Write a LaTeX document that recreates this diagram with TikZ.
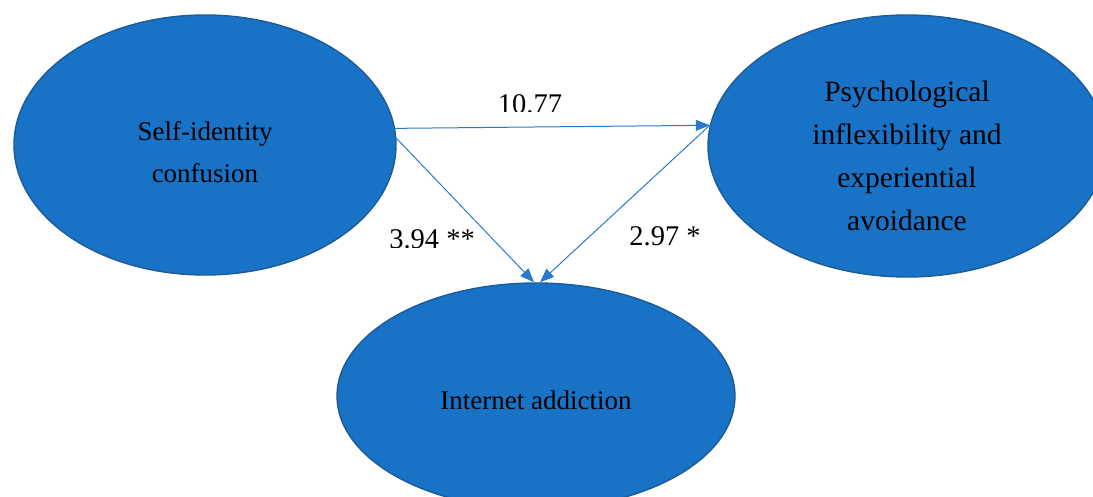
\documentclass[tikz,border=0pt]{standalone}
\usepackage{fontspec}
\setmainfont{Liberation Serif}
\usetikzlibrary{shapes.geometric,arrows.meta}
\definecolor{efill}{HTML}{1872C6}
\definecolor{eline}{HTML}{1D5A96}
\definecolor{aline}{HTML}{2A7ACB}
\tikzset{
  oval/.style={ellipse, draw=eline, fill=efill, line width=1.4pt, inner sep=0pt},
  otext/.style={align=center, font=\fontsize{27}{42}\selectfont, text=black, inner sep=0pt},
  conn/.style={draw=aline, line width=1pt, -{Triangle[length=14pt,width=11pt]}},
  lbl/.style={font=\fontsize{28.5}{34}\selectfont, text=black, inner sep=0pt}
}
\begin{document}
\begin{tikzpicture}[x=1pt,y=-1pt]
\useasboundingbox (0,0) rectangle (1093,497);
\begin{scope}
\clip (0,0) rectangle (1093,497);
\node[oval, minimum width=382pt, minimum height=260pt] (L) at (205,145) {};
\node[oval, minimum width=398pt, minimum height=262pt] (R) at (907,146) {};
\node[oval, minimum width=398pt, minimum height=226pt] (B) at (536,396) {};
\end{scope}
\node[otext] (Lt) at (205,152) {Self-identity\\confusion};
\node[otext, font=\fontsize{29.5}{43}\selectfont] (Rt) at (907,156) {Psychological\\inflexibility and\\experiential\\avoidance};
\node[otext] (Bt) at (536,400) {Internet addiction};
\draw[conn] (L.5) -- (R.174.5);
\draw[conn] (L.2) -- (B.91);
\draw[conn] (R.174.5) -- (B.88);
\begin{scope}
\clip (450,80) rectangle (620,112);
\node[lbl] (l1) at (530,104) {10.77};
\end{scope}
\begin{scope}
\clip (370,215) rectangle (500,248);
\node[lbl] (l2) at (432,239) {3.94 **};
\end{scope}
\node[lbl] (l3) at (665,236) {2.97 *};
\end{tikzpicture}
\end{document}
